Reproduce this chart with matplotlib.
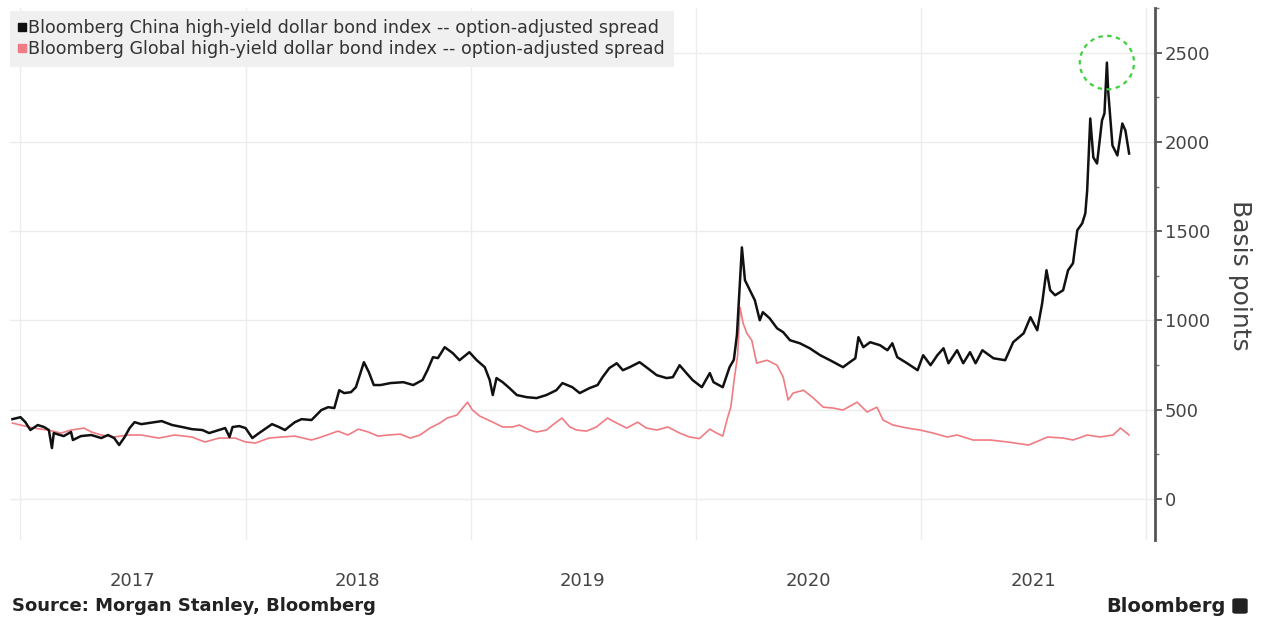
import matplotlib
matplotlib.use('Agg')
import matplotlib.pyplot as plt
import matplotlib.dates as mdates
from matplotlib.patches import Ellipse, FancyBboxPatch
from matplotlib.lines import Line2D
from matplotlib.ticker import MultipleLocator
import numpy as np
import pandas as pd

# Bloomberg China high-yield dollar bond index, OAS (bp)
china_dates = [
    '2016-12-19', '2017-01-01', '2017-01-09', '2017-01-17', '2017-01-29', '2017-02-08',
    '2017-02-16', '2017-02-21', '2017-02-24', '2017-03-12', '2017-03-24', '2017-03-27',
    '2017-04-09', '2017-04-26', '2017-05-12', '2017-05-23', '2017-06-02', '2017-06-10',
    '2017-06-19', '2017-06-27', '2017-07-05', '2017-07-16', '2017-07-28', '2017-08-18',
    '2017-09-04', '2017-09-20', '2017-10-06', '2017-10-23', '2017-11-03', '2017-11-19',
    '2017-11-29', '2017-12-06', '2017-12-11', '2017-12-22', '2018-01-01', '2018-01-12',
    '2018-01-23', '2018-02-13', '2018-02-24', '2018-03-06', '2018-03-12', '2018-03-22',
    '2018-04-02', '2018-04-18', '2018-05-04', '2018-05-15', '2018-05-25', '2018-06-02',
    '2018-06-10', '2018-06-21', '2018-06-29', '2018-07-12', '2018-07-20', '2018-07-28',
    '2018-08-08', '2018-08-24', '2018-09-14', '2018-09-30', '2018-10-15', '2018-10-23',
    '2018-11-01', '2018-11-09', '2018-11-20', '2018-12-03', '2018-12-14', '2018-12-30',
    '2019-01-11', '2019-01-24', '2019-02-01', '2019-02-06', '2019-02-12', '2019-02-22',
    '2019-03-05', '2019-03-17', '2019-04-02', '2019-04-18', '2019-05-04', '2019-05-20',
    '2019-05-30', '2019-06-15', '2019-06-27', '2019-07-13', '2019-07-26', '2019-08-03',
    '2019-08-14', '2019-08-26', '2019-09-05', '2019-09-16', '2019-10-02', '2019-10-13',
    '2019-10-30', '2019-11-15', '2019-11-25', '2019-12-06', '2019-12-17', '2019-12-27',
    '2020-01-11', '2020-01-24', '2020-01-30', '2020-02-14', '2020-02-25', '2020-03-03',
    '2020-03-08', '2020-03-16', '2020-03-21', '2020-03-29', '2020-04-06', '2020-04-14',
    '2020-04-19', '2020-04-30', '2020-05-12', '2020-05-22', '2020-06-02', '2020-06-18',
    '2020-07-04', '2020-07-21', '2020-08-06', '2020-08-27', '2020-09-07', '2020-09-16',
    '2020-09-21', '2020-09-29', '2020-10-10', '2020-10-26', '2020-11-07', '2020-11-15',
    '2020-11-23', '2020-12-09', '2020-12-26', '2021-01-04', '2021-01-16', '2021-01-27',
    '2021-02-06', '2021-02-14', '2021-02-28', '2021-03-10', '2021-03-21', '2021-03-30',
    '2021-04-10', '2021-04-28', '2021-05-17', '2021-05-30', '2021-06-16', '2021-06-27',
    '2021-07-08', '2021-07-16', '2021-07-23', '2021-07-29', '2021-08-06', '2021-08-19',
    '2021-08-27', '2021-09-04', '2021-09-11', '2021-09-19', '2021-09-24', '2021-09-27',
    '2021-10-02', '2021-10-07', '2021-10-13', '2021-10-21', '2021-10-25', '2021-10-29',
    '2021-10-31', '2021-11-07', '2021-11-15', '2021-11-23', '2021-11-28', '2021-12-04',
]
china_bp = [
    447, 458, 430, 386, 414, 403,
    386, 285, 369, 352, 375, 330,
    352, 358, 341, 358, 341, 302,
    347, 397, 430, 419, 425, 436,
    414, 403, 391, 386, 369, 386,
    397, 347, 403, 408, 397, 341,
    369, 419, 403, 386, 403, 430,
    447, 442, 498, 514, 509, 609,
    593, 598, 626, 766, 710, 638,
    638, 649, 654, 638, 666, 721,
    794, 789, 850, 817, 777, 822,
    777, 738, 666, 582, 677, 654,
    621, 582, 570, 565, 582, 609,
    649, 626, 593, 621, 638, 682,
    733, 760, 721, 738, 766, 738,
    693, 677, 682, 749, 705, 666,
    626, 705, 654, 626, 738, 780,
    920, 1409, 1225, 1169, 1113, 1001,
    1046, 1012, 956, 934, 889, 872,
    844, 805, 777, 738, 766, 788,
    906, 850, 878, 861, 833, 872,
    794, 760, 721, 805, 749, 805,
    844, 760, 833, 760, 822, 760,
    833, 788, 777, 878, 928, 1018,
    945, 1096, 1281, 1169, 1141, 1169,
    1281, 1320, 1505, 1544, 1600, 1728,
    2131, 1913, 1879, 2120, 2159, 2444,
    2288, 1980, 1924, 2103, 2064, 1935,
]

# Bloomberg Global high-yield dollar bond index, OAS (bp)
global_dates = [
    '2016-12-19', '2017-01-01', '2017-01-22', '2017-02-14', '2017-03-08', '2017-03-24',
    '2017-04-14', '2017-04-26', '2017-05-12', '2017-06-02', '2017-06-25', '2017-07-16',
    '2017-08-13', '2017-09-08', '2017-10-06', '2017-10-27', '2017-11-19', '2017-12-15',
    '2018-01-01', '2018-01-17', '2018-02-08', '2018-03-01', '2018-03-22', '2018-04-18',
    '2018-05-04', '2018-05-31', '2018-06-16', '2018-07-03', '2018-07-19', '2018-08-04',
    '2018-08-20', '2018-09-09', '2018-09-25', '2018-10-11', '2018-10-27', '2018-11-12',
    '2018-11-24', '2018-12-10', '2018-12-19', '2018-12-27', '2019-01-04', '2019-01-16',
    '2019-02-06', '2019-02-22', '2019-03-10', '2019-03-21', '2019-04-07', '2019-04-18',
    '2019-05-04', '2019-05-14', '2019-05-29', '2019-06-11', '2019-06-22', '2019-07-08',
    '2019-07-24', '2019-08-11', '2019-08-26', '2019-09-11', '2019-09-29', '2019-10-13',
    '2019-10-30', '2019-11-17', '2019-12-06', '2019-12-22', '2020-01-07', '2020-01-24',
    '2020-02-04', '2020-02-14', '2020-02-22', '2020-02-27', '2020-03-04', '2020-03-09',
    '2020-03-13', '2020-03-18', '2020-03-24', '2020-04-01', '2020-04-09', '2020-04-14',
    '2020-04-26', '2020-05-12', '2020-05-22', '2020-05-30', '2020-06-07', '2020-06-24',
    '2020-07-10', '2020-07-26', '2020-08-11', '2020-08-27', '2020-09-19', '2020-10-05',
    '2020-10-21', '2020-10-31', '2020-11-16', '2020-12-09', '2020-12-30', '2021-01-20',
    '2021-02-12', '2021-02-28', '2021-03-26', '2021-04-23', '2021-05-21', '2021-06-24',
    '2021-07-25', '2021-08-19', '2021-09-04', '2021-09-27', '2021-10-18', '2021-11-08',
    '2021-11-20', '2021-11-28', '2021-12-04',
]
global_bp = [
    425, 414, 397, 386, 369, 386,
    397, 375, 358, 347, 358, 358,
    341, 358, 347, 319, 341, 341,
    319, 313, 341, 347, 352, 330,
    347, 380, 358, 391, 375, 352,
    358, 363, 341, 358, 397, 425,
    453, 470, 509, 542, 498, 464,
    430, 403, 403, 414, 386, 375,
    386, 414, 453, 403, 386, 380,
    403, 453, 425, 397, 430, 397,
    386, 403, 369, 347, 338, 391,
    369, 352, 458, 514, 682, 800,
    1074, 984, 928, 889, 760, 766,
    777, 749, 682, 554, 593, 609,
    565, 514, 509, 498, 542, 487,
    514, 442, 414, 397, 386, 369,
    347, 358, 330, 330, 319, 302,
    347, 341, 330, 358, 347, 358,
    397, 375, 358,
]

year_labels = ['2017', '2018', '2019', '2020', '2021']
grid_years = [2017, 2018, 2019, 2020, 2021, 2022]
y_ticks = [0, 500, 1000, 1500, 2000, 2500]

china_x = pd.to_datetime(china_dates)
global_x = pd.to_datetime(global_dates)

W, H = 1266, 623
fig = plt.figure(figsize=(W / 100, H / 100), dpi=100)
ax = fig.add_axes([10 / W, 1 - 540 / H, 1145 / W, 532 / H])

ax.plot(global_x, global_bp, color='#f07b82', lw=1.2, zorder=3)
ax.plot(china_x, china_bp, color='#111111', lw=1.8, zorder=4)

# dashed circle round the peak
i_peak = int(np.argmax(china_bp))
peak = Ellipse((mdates.date2num(china_x[i_peak]), china_bp[i_peak]),
               width=88, height=300, fill=False, edgecolor='#3fd13f',
               linestyle=(0, (2, 2)), lw=1.6, zorder=5)
ax.add_patch(peak)

ax.set_xlim(pd.Timestamp('2016-12-15'), pd.Timestamp('2022-01-15'))
ax.set_ylim(-230, 2750)

# year start gridlines, year labels at mid-year
ax.set_xticks([pd.Timestamp(f'{y}-01-01') for y in grid_years])
ax.set_xticks([pd.Timestamp(f'{y}-07-02') for y in year_labels], minor=True)
ax.set_xticklabels([], minor=False)
ax.set_xticklabels(year_labels, minor=True)
ax.tick_params(axis='x', which='both', length=0, labelsize=13,
               labelcolor='#444444', pad=23)

ax.yaxis.tick_right()
ax.set_yticks(y_ticks)
ax.yaxis.set_minor_locator(MultipleLocator(250))
ax.tick_params(axis='y', which='major', length=5, width=1.3, color='#555555',
               labelsize=13, labelcolor='#444444', pad=2)
ax.tick_params(axis='y', which='minor', length=3, width=1.0, color='#777777')

ax.grid(axis='y', which='major', color='#ececec', lw=1.0)
ax.grid(axis='x', which='major', color='#ececec', lw=1.0)

for side in ['left', 'top', 'bottom']:
    ax.spines[side].set_visible(False)
ax.spines['right'].set_color('#555555')
ax.spines['right'].set_linewidth(2)

handles = [
    Line2D([], [], marker='s', ls='none', color='#111111', markersize=5.5),
    Line2D([], [], marker='s', ls='none', color='#f07b82', markersize=5.5),
]
labels = [
    'Bloomberg China high-yield dollar bond index -- option-adjusted spread',
    'Bloomberg Global high-yield dollar bond index -- option-adjusted spread',
]
leg = ax.legend(handles, labels, loc='upper left', bbox_to_anchor=(0.0, 0.995),
                fontsize=12.6, frameon=True, fancybox=False, facecolor='#f0f0f0',
                edgecolor='none', framealpha=1, handlelength=0.4, handletextpad=0.15,
                labelspacing=0.15, borderpad=0.5, borderaxespad=0.0)
for t in leg.get_texts():
    t.set_color('#333333')

fig.text(1240 / W, 1 - 275 / H, 'Basis points', rotation=270, ha='center',
         va='center', fontsize=18, color='#444444')

fig.text(12 / W, 1 - 606 / H, 'Source: Morgan Stanley, Bloomberg', fontsize=13,
         fontweight='bold', color='#222222', va='center')
fig.text(1226 / W, 1 - 606 / H, 'Bloomberg', fontsize=14, fontweight='bold',
         color='#222222', ha='right', va='center')
fig.patches.append(FancyBboxPatch((1233 / W, 1 - 613 / H), 14 / W, 14 / H,
                                  boxstyle='round,pad=0,rounding_size=0.002',
                                  transform=fig.transFigure, color='#222222'))

fig.savefig('out.png', dpi=100)
